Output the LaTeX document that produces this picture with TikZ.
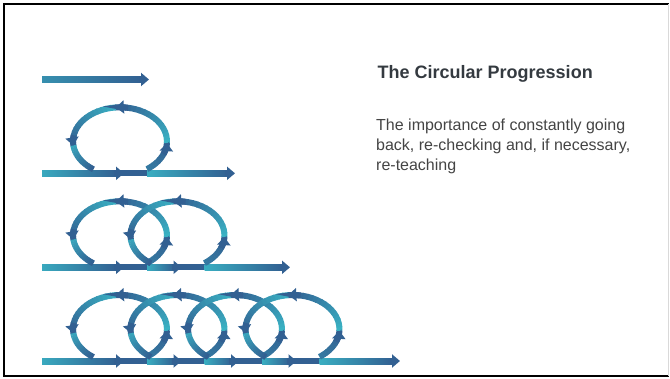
\documentclass[tikz,border=0pt]{standalone}
\usepackage{fontspec}
\setmainfont{Liberation Sans}
\usetikzlibrary{arrows.meta}

\definecolor{loopteal}{RGB}{58,182,198}
\definecolor{loopnavy}{RGB}{50,96,146}
\definecolor{headgray}{RGB}{52,58,64}
\definecolor{bodygray}{RGB}{68,68,68}

\tikzset{
  bandline/.style={line width=6pt},
  arrowtip/.style={loopnavy, line width=6pt, -{Triangle[length=8pt,width=13pt]}},
  headtext/.style={anchor=base west, inner sep=0pt, text=headgray, font=\fontsize{18}{22}\selectfont\bfseries},
  bodytext/.style={anchor=base west, inner sep=0pt, text=bodygray, font=\fontsize{16}{20}\selectfont},
}

% piece of a loop from angle #1 to #2, navy share going from #3 to 100
\newcommand\looparc[3]{%
  \foreach \k in {0,...,15}{%
    \pgfmathsetmacro\angA{#1+(#2-(#1))*\k/16}%
    \pgfmathsetmacro\angB{#1+(#2-(#1))*(\k+1.2)/16}%
    \pgfmathtruncatemacro\shr{#3+(100-#3)*\k/15}%
    \draw[bandline, loopnavy!\shr!loopteal] (\angA:47pt and 34pt) arc[start angle=\angA, end angle=\angB, x radius=47pt, y radius=34pt];
  }}

% straight piece from x #1 to x #2 at height #3
\newcommand\lineseg[4]{%
  \shade[left color=loopnavy!#4!loopteal, right color=loopnavy] (#1,#3-3) rectangle (#2,#3+3);}

% bottom line of a row: height, loops, tip x
\newcommand\baserow[3]{%
  \lineseg{42}{117}{#1}{15}
  \foreach \i in {1,...,#2}{%
    \pgfmathsetmacro\cx{120+57.5*(\i-1)}%
    \pgfmathsetmacro\nx{\i<#2 ? \cx+61.5 : #3}%
    \fill[loopnavy] (\cx-4,#1-3) rectangle (\cx+27,#1+3);
    \lineseg{\cx+27}{\nx-7}{#1}{10}
    \draw[arrowtip] (\cx-6,#1) -- (\cx+4,#1);
  }
  \draw[arrowtip] (#3-10,#1) -- (#3,#1);
}

% the loops of a row: height, loops
\newcommand\looprow[2]{%
  \foreach \i in {1,...,#2}{%
    \begin{scope}[shift={({120+57.5*(\i-1)},{#1+32})}]
      \looparc{-55}{-3}{70}
      \looparc{-3}{95}{5}
      \looparc{95}{187}{10}
      \looparc{187}{235}{20}
      \draw[arrowtip] (-22:47pt and 34pt) arc[start angle=-22, end angle=-3, x radius=47pt, y radius=34pt];
      \draw[arrowtip] (80:47pt and 34pt) arc[start angle=80, end angle=95, x radius=47pt, y radius=34pt];
      \draw[arrowtip] (170:47pt and 34pt) arc[start angle=170, end angle=187, x radius=47pt, y radius=34pt];
    \end{scope}
  }}

\begin{document}
\begin{tikzpicture}[x=1pt, y=1pt]
%\draw [help lines, step=10pt](0,0) grid (670,378);
\useasboundingbox (0,0) rectangle (670,378);

% frame
\draw [line width=2pt] (668.5,374.3) -- (4.3,374.3) -- (4.3,1.7) -- (668.5,1.7);
\draw [gray!30, line width=1pt] (668.5,1.7) -- (668.5,374.3);

% first row, plain arrow
\lineseg{42}{142}{298.5}{45}
\draw[arrowtip] (139,298.5) -- (149,298.5);

% rows with one, two and four loops
\baserow{204.7}{1}{235}
\looprow{204.7}{1}
\baserow{110.7}{2}{290}
\looprow{110.7}{2}
\baserow{17}{4}{400}
\looprow{17}{4}

% text
\node[headtext] (head) at (377.5,299) {The Circular Progression};
\node[bodytext] (body1) at (376,247.3) {The importance of constantly going};
\node[bodytext] (body2) at (376,227.3) {back, re-checking and, if necessary,};
\node[bodytext] (body3) at (376,207.5) {re-teaching};

\end{tikzpicture}
\end{document}
